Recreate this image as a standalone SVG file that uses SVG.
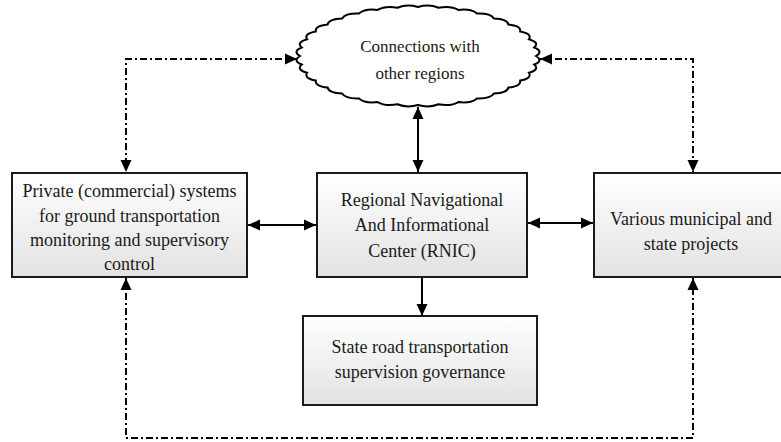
<svg xmlns="http://www.w3.org/2000/svg" width="781" height="442" viewBox="0 0 781 442">
<style>
.box{fill:url(#g);stroke:#1a1a1a;stroke-width:2}
.t{font-family:"Liberation Serif","Times New Roman",serif;font-size:18px;fill:#1a1a1a;text-anchor:middle}
.solid{fill:none;stroke:#000;stroke-width:2}
.dash{fill:none;stroke:#000;stroke-width:2;stroke-dasharray:7,3,2,3}
</style>
<defs>
<linearGradient id="g" x1="0" y1="0" x2="0" y2="1">
<stop offset="0" stop-color="#ffffff"/>
<stop offset="1" stop-color="#e2e2e2"/>
</linearGradient>
<marker id="a" markerUnits="userSpaceOnUse" markerWidth="12" markerHeight="12" viewBox="0 0 12 12" refX="12" refY="6" orient="auto-start-reverse">
<path d="M0,0.5 L12,6 L0,11.5 Z" fill="#000"/>
</marker>
</defs>
<g id="connectors">
<line class="solid" x1="248" y1="225" x2="316" y2="225" marker-start="url(#a)" marker-end="url(#a)"/>
<line class="solid" x1="528" y1="223" x2="593" y2="223" marker-start="url(#a)" marker-end="url(#a)"/>
<line class="solid" x1="418" y1="107" x2="418" y2="172" marker-start="url(#a)" marker-end="url(#a)"/>
<line class="solid" x1="422" y1="277" x2="422" y2="316" marker-end="url(#a)"/>
<polyline class="dash" points="297,59 126,59 126,172" marker-start="url(#a)" marker-end="url(#a)"/>
<polyline class="dash" points="540,59 693,59 693,172" marker-start="url(#a)" marker-end="url(#a)"/>
<polyline class="dash" points="126,278 126,438 693,438 693,278" marker-start="url(#a)" marker-end="url(#a)"/>
</g>
<g id="cloud">
<path fill="#fff" stroke="#000" stroke-width="2" d="M536,56 Q543.8,60.6 534.2,64.5 Q540,69.6 528.9,72.8 Q532.4,78.2 520.2,80.5 Q521.4,86.1 508.4,87.5 Q507.3,93 493.9,93.5 Q490.5,98.9 477,98.4 Q471.4,103.5 458.4,102.1 Q450.7,106.6 438.5,104.3 Q429,108.2 418,105 Q407,108.2 397.5,104.3 Q385.3,106.6 377.6,102.1 Q364.6,103.5 359,98.4 Q345.5,98.9 342.1,93.5 Q328.7,93 327.6,87.5 Q314.6,86.1 315.8,80.5 Q303.6,78.2 307.1,72.8 Q296,69.6 301.8,64.5 Q292.2,60.6 300,56 Q292.2,51.4 301.8,47.5 Q296,42.4 307.1,39.2 Q303.6,33.8 315.8,31.5 Q314.6,25.9 327.6,24.5 Q328.7,19 342.1,18.5 Q345.5,13.1 359,13.6 Q364.6,8.5 377.6,9.9 Q385.3,5.4 397.5,7.7 Q407,3.8 418,7 Q429,3.8 438.5,7.7 Q450.7,5.4 458.4,9.9 Q471.4,8.5 477,13.6 Q490.5,13.1 493.9,18.5 Q507.3,19 508.4,24.5 Q521.4,25.9 520.2,31.5 Q532.4,33.8 528.9,39.2 Q540,42.4 534.2,47.5 Q543.8,51.4 536,56 Z"/>
<text class="t" style="font-size:17px" x="420" y="52">Connections with</text>
<text class="t" style="font-size:17px" x="420" y="79">other regions</text>
</g>
<g id="private">
<rect class="box" x="12" y="173" width="235" height="104"/>
<text class="t" x="129.5" y="197">Private (commercial) systems</text>
<text class="t" x="129.5" y="222">for ground transportation</text>
<text class="t" x="129.5" y="246">monitoring and supervisory</text>
<text class="t" x="129.5" y="270">control</text>
</g>
<g id="rnic">
<rect class="box" x="317" y="173" width="210" height="104"/>
<text class="t" x="422" y="206">Regional Navigational</text>
<text class="t" x="422" y="231">And Informational</text>
<text class="t" x="422" y="257">Center (RNIC)</text>
</g>
<g id="municipal">
<rect class="box" x="594" y="173" width="195" height="104"/>
<text class="t" x="691" y="225">Various municipal and</text>
<text class="t" x="691" y="250">state projects</text>
</g>
<g id="state">
<rect class="box" x="303" y="316" width="234" height="89"/>
<text class="t" x="420" y="353">State road transportation</text>
<text class="t" x="420" y="378">supervision governance</text>
</g>
</svg>
